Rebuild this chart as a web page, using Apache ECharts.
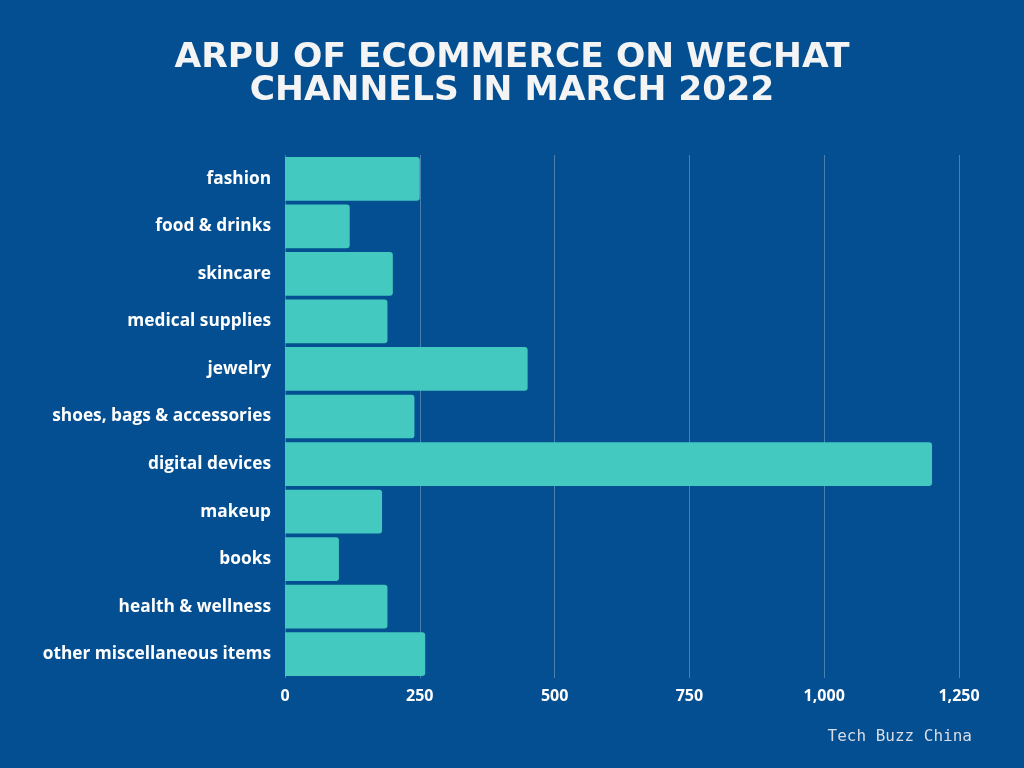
<!DOCTYPE html>
<html><head><meta charset="utf-8">
<script src="https://cdn.jsdelivr.net/npm/echarts@6/dist/echarts.min.js"></script>
<style>html,body{margin:0;padding:0;background:#044F91;}#c{width:1024px;height:768px;}</style>
</head><body><div id="c"></div>
<script>
const categories = ["fashion","food & drinks","skincare","medical supplies","jewelry","shoes, bags & accessories","digital devices","makeup","books","health & wellness","other miscellaneous items"];
const values = [250,120,200,190,450,240,1200,180,100,190,260];
const xTicks = [0,250,500,750,1000,1250];

const chart = echarts.init(document.getElementById('c'));
chart.setOption({
  backgroundColor: '#044F91',
  title: {
    text: 'ARPU OF ECOMMERCE ON WECHAT\nCHANNELS IN MARCH 2022',
    left: 'center', top: 37,
    textStyle: { color: '#F4F4F4', fontSize: 34.5, fontWeight: 'bold', fontFamily: 'DejaVu Sans', lineHeight: 33 }
  },
  graphic: [{
    type: 'text', right: 52, top: 729,
    style: { text: 'Tech Buzz China', fill: '#D8DDE6', font: '16px "DejaVu Sans Mono"' }
  }],
  grid: { left: 285, right: 65, top: 155, bottom: 90, containLabel: false },
  xAxis: {
    type: 'value', min: 0, max: 1250, interval: 250,
    axisLine: { show: false }, axisTick: { show: false },
    splitLine: { show: true, lineStyle: { color: 'rgba(255,255,255,0.28)', width: 1 } },
    axisLabel: { color: '#FFFFFF', fontSize: 16, fontWeight: 'bold', fontFamily: 'Open Sans', margin: 10,
      formatter: v => xTicks.includes(v) ? v.toLocaleString('en-US') : '' }
  },
  yAxis: {
    type: 'category', data: categories, inverse: true,
    axisLine: { show: false }, axisTick: { show: false },
    axisLabel: { color: '#FFFFFF', fontSize: 17.3, fontWeight: 'bold', fontFamily: 'Open Sans', margin: 14 }
  },
  series: [{
    type: 'bar', data: values, barCategoryGap: '8%',
    itemStyle: { color: '#43C9BF', borderRadius: [0, 3, 3, 0] },
    silent: true
  }]
});
</script></body></html>
